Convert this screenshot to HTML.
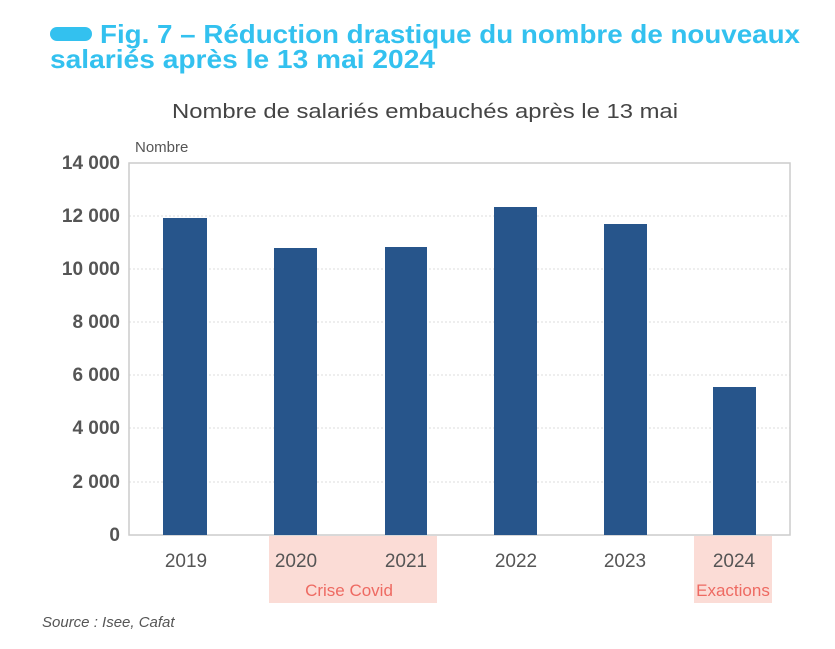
<!DOCTYPE html>
<html><head><meta charset="utf-8"><style>
body{margin:0;background:#fff;width:835px;height:644px;overflow:hidden;font-family:"Liberation Sans",sans-serif}
</style></head><body>
<svg width="835" height="644" xmlns="http://www.w3.org/2000/svg" font-family="Liberation Sans, sans-serif">
<rect x="50" y="27" width="42" height="14" rx="7" fill="#33c1ef"/>
<text x="100" y="43" font-size="26" font-weight="bold" fill="#33c1ef" textLength="700" lengthAdjust="spacingAndGlyphs">Fig. 7 – Réduction drastique du nombre de nouveaux</text>
<text x="50" y="68" font-size="26" font-weight="bold" fill="#33c1ef" textLength="385" lengthAdjust="spacingAndGlyphs">salariés après le 13 mai 2024</text>
<text x="172" y="118" font-size="20" fill="#444" textLength="506" lengthAdjust="spacingAndGlyphs">Nombre de salariés embauchés après le 13 mai</text>
<text x="135" y="152" font-size="15" fill="#555">Nombre</text>
<rect x="269" y="536" width="168" height="67" fill="#fbdcd6"/>
<rect x="694" y="536" width="78" height="67" fill="#fbdcd6"/>
<g stroke="#ddd" stroke-dasharray="2,2">
<line x1="129" x2="790" y1="216" y2="216"/><line x1="129" x2="790" y1="269" y2="269"/>
<line x1="129" x2="790" y1="322" y2="322"/><line x1="129" x2="790" y1="375" y2="375"/>
<line x1="129" x2="790" y1="428" y2="428"/><line x1="129" x2="790" y1="482" y2="482"/>
</g>
<rect x="129" y="163" width="661" height="372" fill="none" stroke="#ccc" stroke-width="1.5"/>
<g fill="#27558b">
<rect x="163" y="218" width="44" height="317"/>
<rect x="274" y="248" width="43" height="287"/>
<rect x="385" y="247" width="42" height="288"/>
<rect x="494" y="207" width="43" height="328"/>
<rect x="604" y="224" width="43" height="311"/>
<rect x="713" y="387" width="43" height="148"/>
</g>
<g font-size="19" font-weight="bold" fill="#555" text-anchor="end">
<text x="120" y="169">14 000</text><text x="120" y="222">12 000</text><text x="120" y="275">10 000</text>
<text x="120" y="328">8 000</text><text x="120" y="381">6 000</text><text x="120" y="434">4 000</text>
<text x="120" y="488">2 000</text><text x="120" y="541">0</text>
</g>
<g font-size="19" fill="#555" text-anchor="middle">
<text x="186" y="567">2019</text><text x="296" y="567">2020</text><text x="406" y="567">2021</text>
<text x="516" y="567">2022</text><text x="625" y="567">2023</text><text x="734" y="567">2024</text>
</g>
<text x="349" y="596" font-size="17" fill="#ee6a62" text-anchor="middle">Crise Covid</text>
<text x="733" y="596" font-size="17" fill="#ee6a62" text-anchor="middle">Exactions</text>
<text x="42" y="627" font-size="15" font-style="italic" fill="#555">Source : Isee, Cafat</text>
</svg>
</body></html>
